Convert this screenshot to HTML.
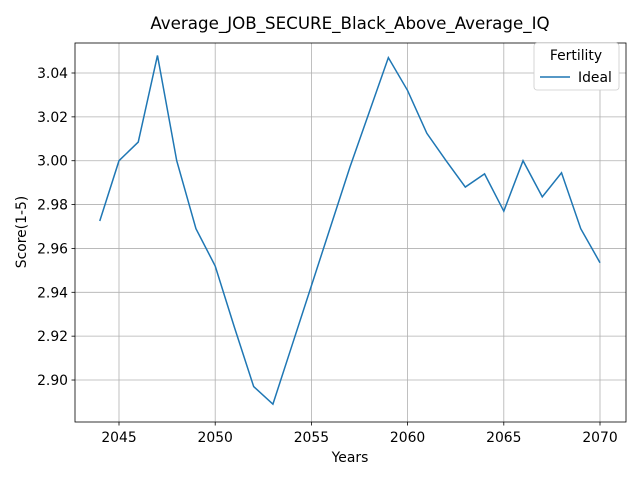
<!DOCTYPE html>
<html><head><meta charset="utf-8"><style>
body{margin:0;background:#fff;font-family:"DejaVu Sans","Liberation Sans",sans-serif;}
</style></head><body>
<svg width="640" height="480" xmlns="http://www.w3.org/2000/svg" font-family="DejaVu Sans, Liberation Sans, sans-serif">
<rect width="640" height="480" fill="#fff"/>
<g id="grid"></g>
<g id="ticks" font-size="13.9" fill="#000"></g>
<polyline id="line" fill="none" stroke="#1f77b4" stroke-width="1.5"/>
<rect x="75" y="43" width="551" height="379" fill="none" stroke="#000" stroke-width="0.8"/>
<text x="350" y="29" font-size="16.7" text-anchor="middle">Average_JOB_SECURE_Black_Above_Average_IQ</text>
<text x="350" y="462" font-size="13.9" text-anchor="middle">Years</text>
<text x="26" y="232" font-size="13.9" text-anchor="middle" transform="rotate(-90 26 232)">Score(1-5)</text>
<g>
<rect x="534" y="43" width="85" height="47" rx="3" fill="#fff" stroke="#ccc" stroke-width="0.8"/>
<text x="576" y="60" font-size="13.9" text-anchor="middle">Fertility</text>
<line x1="540" y1="77" x2="570" y2="77" stroke="#1f77b4" stroke-width="1.5"/>
<text x="578" y="82" font-size="13.9">Ideal</text>
</g>
</svg>
<script>
const years=[2044,2045,2046,2047,2048,2049,2050,2051,2052,2053,2054,2055,2056,2057,2058,2059,2060,2061,2062,2063,2064,2065,2066,2067,2068,2069,2070];
const scores=[2.9725,3.000,3.0085,3.048,3.000,2.969,2.952,2.924,2.897,2.889,2.916,2.943,2.970,2.997,3.022,3.047,3.032,3.0125,3.000,2.988,2.994,2.977,3.000,2.9835,2.9945,2.969,2.9535];
const xTicks=[2045,2050,2055,2060,2065,2070];
const yTicks=[2.90,2.92,2.94,2.96,2.98,3.00,3.02,3.04];
const xs=v=>119+(v-2045)*19.24;
const ys=v=>73+(3.04-v)/0.02*43.86;
const NS="http://www.w3.org/2000/svg";
const grid=document.getElementById('grid'),ticks=document.getElementById('ticks');
function mk(tag,attrs,parent){const e=document.createElementNS(NS,tag);for(const k in attrs)e.setAttribute(k,attrs[k]);parent.appendChild(e);return e;}
xTicks.forEach(t=>{const x=xs(t);
const g=mk('line',{x1:x,x2:x,y1:43,y2:422,stroke:'#b0b0b0','stroke-width':0.8},grid);


mk('line',{x1:x,x2:x,y1:422,y2:425.5,stroke:'#000','stroke-width':0.8},ticks);
const tx=mk('text',{x:x,y:442,'text-anchor':'middle'},ticks);tx.textContent=t;

});
yTicks.forEach(t=>{const y=ys(t);
const g=mk('line',{x1:75,x2:626,y1:y,y2:y,stroke:'#b0b0b0','stroke-width':0.8},grid);


mk('line',{x1:71.5,x2:75,y1:y,y2:y,stroke:'#000','stroke-width':0.8},ticks);
const tx=mk('text',{x:68,y:y+5,'text-anchor':'end'},ticks);tx.textContent=t.toFixed(2);

});
document.getElementById('line').setAttribute('points',years.map((yr,i)=>xs(yr)+','+ys(scores[i])).join(' '));
</script>
</body></html>
